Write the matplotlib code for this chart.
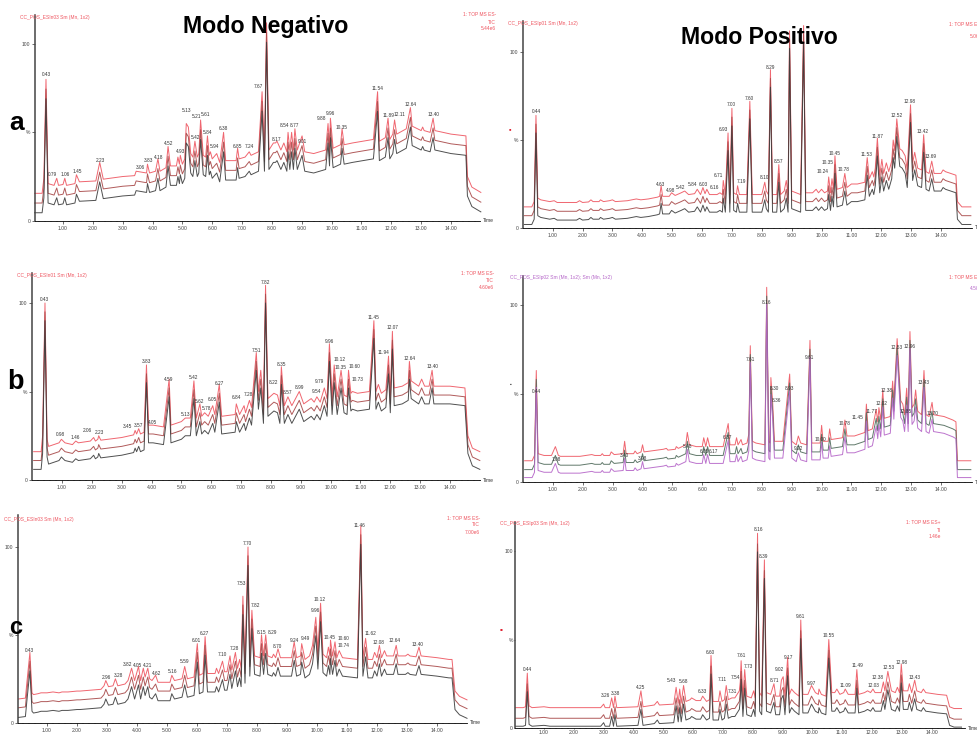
import numpy as np
import matplotlib
matplotlib.use("Agg")
import matplotlib.pyplot as plt

W, H = 977, 734

# top trace of every overlay, (retention time, % intensity)
a_neg_trace = [(.05,15.5),(.3,15.5),(.36,24),(.43,80),(.5,21),(.7,20),(.79,24),(.85,20),(1.0,20.5),(1.06,24),(1.12,20),(1.4,21),(1.45,26),(1.55,22),(2.1,22.5),(2.23,33),(2.35,23.5),(3.0,25),(3.4,25.5),(3.45,28),(3.8,27),(3.83,32),(3.9,27),(4.1,28),(4.18,35),(4.25,28),(4.45,30),(4.52,42),(4.6,31),(4.8,31),(4.85,36),(4.9,32),(4.93,37),(5.0,32),(5.08,35),(5.13,55),(5.2,53),(5.28,38),(5.35,36),(5.42,45),(5.5,36),(5.55,38),(5.61,57),(5.7,37),(5.78,36),(5.84,48),(5.9,37),(5.94,39),(6.0,35),(6.15,38),(6.25,33),(6.38,50),(6.45,34),(6.8,34),(6.85,41),(6.9,35),(7.1,36),(7.24,39),(7.3,37),(7.55,39),(7.67,73),(7.75,39),(7.82,112),(7.9,40),(8.05,44),(8.12,44),(8.17,45),(8.3,40),(8.4,44),(8.5,39),(8.54,50),(8.6,40),(8.66,50),(8.72,40),(8.77,52),(8.85,40),(9.01,48),(9.1,39),(9.4,38),(9.8,40),(9.88,55),(9.93,42),(9.96,58),(10.05,41),(10.3,43),(10.35,52),(10.42,43),(10.7,44),(11.4,46),(11.54,73),(11.6,45),(11.8,47),(11.89,58),(11.95,46),(12.05,49),(12.11,57),(12.18,49),(12.5,52),(12.64,64),(12.7,53.5),(13.0,51),(13.05,53),(13.1,51),(13.3,50),(13.4,58),(13.46,51),(14.0,49),(14.5,48),(14.55,25),(14.7,19),(15.0,16)]
a_pos_trace = [(.05,12),(.3,12),(.38,15),(.44,64),(.5,17),(.6,16),(.9,15),(1.05,15.5),(1.15,14.5),(1.8,14.5),(1.9,15.5),(2.0,14.5),(2.2,14.8),(2.28,16),(2.35,15),(2.55,15),(2.6,16),(2.7,15),(2.9,15.5),(3.0,16),(3.1,15),(3.5,15.5),(3.8,16.5),(3.95,16),(4.2,16.5),(4.5,17.5),(4.58,18),(4.63,24),(4.68,18),(4.9,18),(4.98,20),(5.1,18.5),(5.3,20),(5.42,21),(5.55,19),(5.75,19.5),(5.84,22),(5.95,19),(6.03,23),(6.1,19.5),(6.16,22),(6.25,19),(6.5,19),(6.6,20),(6.68,19),(6.71,27),(6.78,19),(6.87,54),(6.93,19),(7.0,68),(7.06,20),(7.15,19),(7.19,24),(7.25,19),(7.5,19),(7.6,72),(7.68,19),(8.0,19),(8.1,26),(8.15,21),(8.22,19),(8.29,90),(8.36,19),(8.5,19),(8.57,36),(8.63,19),(8.75,21),(8.82,27),(8.88,19),(8.93,112),(9.0,21),(9.15,20),(9.3,19),(9.4,115),(9.47,20),(9.7,20),(9.82,22),(9.9,20),(10.0,22),(10.1,20),(10.2,21),(10.24,29),(10.3,20),(10.35,28),(10.4,22),(10.45,41),(10.52,22),(10.7,23),(10.78,31),(10.85,23),(11.0,25),(11.2,25),(11.45,26),(11.53,40),(11.6,28),(11.7,32),(11.75,29),(11.8,34),(11.87,51),(11.95,30),(12.02,39),(12.08,31),(12.17,37),(12.25,32),(12.35,38),(12.4,50),(12.45,44),(12.52,62),(12.62,45),(12.7,44),(12.8,41),(12.87,33),(12.98,70),(13.05,37),(13.12,43),(13.22,34),(13.35,33),(13.42,53),(13.5,32),(13.6,31),(13.69,38),(13.77,31),(14.0,31),(14.07,33),(14.15,32),(14.5,30),(14.55,15),(14.7,12),(15.0,12)]
b_neg_trace = [(.05,16),(.3,16),(.35,25),(.43,100),(.5,23),(.55,19),(.9,21),(.98,23),(1.1,21),(1.35,20),(1.46,22),(1.55,21),(1.95,22),(2.06,24),(2.12,22),(2.2,23),(2.23,25),(2.3,22.5),(3.0,24),(3.4,25.5),(3.45,28),(3.5,26),(3.57,29),(3.63,26),(3.75,27),(3.83,65),(3.9,31),(4.05,31),(4.4,30),(4.59,57),(4.65,31),(5.0,33),(5.13,35),(5.3,35),(5.42,56),(5.5,35),(5.62,43),(5.68,36),(5.78,38),(5.9,36),(6.05,42),(6.12,37),(6.27,54),(6.35,36),(6.8,37),(6.84,43),(6.95,37),(7.1,42),(7.15,38),(7.28,45),(7.35,41),(7.51,72),(7.58,50),(7.66,62),(7.75,42),(7.82,110),(7.9,46),(8.1,49),(8.22,48),(8.3,42),(8.35,64),(8.45,42),(8.57,47),(8.7,42),(8.95,50),(9.1,43),(9.35,46),(9.45,44),(9.54,47),(9.65,44),(9.79,52),(9.88,46),(9.96,77),(10.05,47),(10.12,65),(10.22,47),(10.35,62),(10.45,48),(10.55,47),(10.6,62),(10.68,49),(10.73,50),(10.9,49),(11.3,50),(11.45,90),(11.52,50),(11.6,54),(11.7,49),(11.85,51),(11.94,70),(12.0,48),(12.07,84),(12.13,52),(12.4,53),(12.6,55),(12.64,67),(12.7,56),(12.95,53),(13.05,57),(13.15,53),(13.3,53),(13.4,62),(13.46,53),(14.0,53),(14.5,52),(14.6,25),(14.75,18),(15.0,16)]
b_pos_trace = [(.05,12),(.3,12),(.38,15),(.44,63),(.5,16),(.7,15),(.95,15),(1.08,20),(1.18,15),(1.25,14.5),(1.9,14.5),(2.3,15.5),(2.4,15),(2.6,15),(2.65,16),(2.7,15),(2.9,15),(2.95,17),(3.05,15.5),(3.35,16),(3.4,23),(3.45,16),(3.7,16),(3.75,17.5),(3.82,16),(3.95,17),(4.0,21),(4.05,17),(4.7,18.5),(4.8,19),(4.85,18),(5.1,18.5),(5.13,20),(5.2,19),(5.45,21),(5.5,28),(5.57,21),(5.8,20),(6.0,20),(6.05,25),(6.12,20),(6.18,25),(6.25,20),(6.7,20),(6.87,33),(6.93,21),(7.1,21),(7.15,25),(7.2,21),(7.3,24),(7.35,21),(7.5,22),(7.56,27),(7.61,77),(7.68,23),(7.8,22),(8.1,21),(8.16,110),(8.23,23),(8.27,22),(8.3,59),(8.36,45),(8.42,23),(8.7,23),(8.93,61),(9.0,23),(9.15,21),(9.22,26),(9.3,22),(9.5,21),(9.61,80),(9.67,22),(9.95,22),(10.0,32),(10.05,23),(10.22,23),(10.27,30),(10.32,24),(10.7,25),(10.78,35),(10.85,26),(11.1,26),(11.45,28),(11.5,44),(11.56,29),(11.7,30),(11.77,36),(11.83,41),(11.88,34),(11.92,42),(11.98,35),(12.05,52),(12.1,36),(12.3,37),(12.38,57),(12.42,45),(12.53,81),(12.65,46),(12.72,44),(12.78,38),(12.85,53),(12.9,38),(12.96,85),(13.03,42),(13.1,44),(13.15,52),(13.22,40),(13.35,38),(13.43,63),(13.5,38),(13.6,37),(13.7,45),(13.75,38),(14.1,37),(14.4,35),(14.5,34),(14.55,12),(14.7,12),(15.0,12)]
c_neg_trace = [(.05,13.5),(.28,14),(.33,23),(.43,40),(.5,17),(.55,16),(.7,16.5),(.8,17),(1.0,17),(1.2,17.5),(1.4,17),(1.5,17.5),(1.7,17.5),(2.0,18),(2.1,18),(2.8,19),(2.9,21),(2.96,24),(3.05,20.5),(3.2,21),(3.28,25),(3.36,21),(3.6,22),(3.7,24),(3.82,31),(3.92,24),(4.05,32),(4.12,24),(4.21,31),(4.27,26),(4.36,31),(4.42,25),(4.5,24),(4.62,27),(4.7,23),(5.1,23),(5.16,27),(5.25,24),(5.5,25),(5.59,32),(5.68,25),(5.9,26),(6.01,45),(6.08,27),(6.2,28),(6.27,49),(6.35,28),(6.6,28),(6.65,31),(6.72,28),(6.85,35),(6.92,29),(7.0,29),(7.1,38),(7.16,30),(7.28,40),(7.35,31),(7.42,36),(7.47,31),(7.53,72),(7.6,33),(7.7,100),(7.76,37),(7.83,64),(7.92,38),(8.1,37),(8.15,50),(8.22,38),(8.29,50),(8.36,38),(8.5,37),(8.55,39),(8.62,37),(8.7,42),(8.78,37),(9.15,37),(9.24,46),(9.32,37),(9.45,38),(9.49,45),(9.6,36),(9.75,38),(9.85,44),(9.96,60),(10.03,41),(10.12,68),(10.2,39),(10.32,37),(10.38,43),(10.43,38),(10.45,47),(10.52,38),(10.6,46),(10.66,37),(10.74,41),(10.85,37),(11.35,36),(11.46,112),(11.53,37),(11.62,48),(11.7,36),(11.85,36),(11.92,40),(12.0,37),(12.08,44),(12.15,37),(12.25,41),(12.32,38),(12.55,38),(12.64,44),(12.7,38),(12.95,38),(13.03,39),(13.1,38),(13.3,37.5),(13.4,43),(13.47,38),(14.0,37),(14.4,36),(14.5,36),(14.6,18),(14.75,15),(15.0,13)]
c_pos_trace = [(.05,11.5),(.3,11.5),(.38,12),(.44,31),(.5,12.5),(.6,11.5),(1.0,12),(1.2,11.5),(2.9,11.5),(3.0,13.5),(3.05,11.5),(3.2,11.5),(3.27,17),(3.33,11.5),(3.38,18),(3.44,11.5),(4.15,12),(4.25,21),(4.32,12),(4.7,13),(4.8,15),(4.87,13),(5.35,13.5),(5.43,23),(5.5,14),(5.55,22),(5.6,14),(5.68,24),(5.76,15),(5.9,16),(5.95,17),(6.1,15.5),(6.25,15.5),(6.32,18),(6.45,15),(6.55,16),(6.6,41),(6.67,15),(6.85,15),(6.9,21),(6.97,15),(7.05,16),(7.11,24),(7.18,16),(7.3,17),(7.4,17),(7.55,21),(7.58,26),(7.61,38),(7.67,17),(7.73,33),(7.8,18),(7.95,17),(8.03,21),(8.08,17),(8.16,110),(8.23,20),(8.3,18),(8.39,95),(8.46,20),(8.6,19),(8.71,25),(8.77,18),(8.9,18),(8.96,27),(9.02,29),(9.08,18),(9.17,40),(9.23,19),(9.3,22),(9.4,20),(9.55,18),(9.61,61),(9.68,19),(9.85,19),(9.97,24),(10.1,20),(10.2,19),(10.22,22),(10.3,19),(10.45,18),(10.55,50),(10.65,20),(10.75,20),(10.82,22),(10.92,19),(11.05,20),(11.1,22),(11.2,19),(11.43,19),(11.49,33),(11.55,19),(11.75,20),(11.85,21),(11.95,20),(12.03,22),(12.1,20),(12.3,20),(12.38,26),(12.43,21),(12.53,32),(12.65,21),(12.78,20),(12.85,23),(12.92,20),(12.98,36),(13.05,21),(13.2,21),(13.25,25),(13.33,20),(13.43,27),(13.5,21),(13.65,20),(13.72,22),(13.8,20),(14.2,19),(14.5,18.5),(14.6,12),(14.75,11),(15.0,11)]

# peak annotations: text, where it sits in time and %
a_neg_labels = [("0.43",.44,83),("0.79",.64,26.4),("1.06",1.08,26),("1.45",1.48,28),("2.23",2.24,34),("3.06",3.58,30),("3.83",3.86,33.8),("4.18",4.19,36),("4.52",4.53,43.8),("4.93",4.94,39),("5.13",5.14,62.5),("5.21",5.46,59),("5.42",5.43,47),("5.61",5.79,60),("5.84",5.84,50),("5.94",6.09,42),("6.38",6.39,52),("6.85",6.86,42),("7.24",7.25,42),("7.67",7.53,76),("8.17",8.17,46),("8.54",8.41,53.6),("8.77",8.77,54),("9.01",9.01,45),("9.88",9.65,58),("9.96",9.95,60.5),("10.35",10.34,53),("11.54",11.55,75),("11.89",11.89,59.4),("12.11",12.29,60),("12.64",12.64,65.5),("13.40",13.4,60)]
a_pos_labels = [("0.44",.44,66),("4.63",4.62,25),("4.98",4.96,21.3),("5.42",5.27,23),("5.84",5.68,24.7),("6.03",6.03,25),("6.16",6.4,22.8),("6.71",6.56,30),("6.93",6.71,56),("7.00",6.99,70),("7.19",7.32,26.4),("7.60",7.58,73.8),("8.10",8.09,28.7),("8.29",8.28,91),("8.57",8.56,38),("10.24",10.04,32),("10.35",10.19,37),("10.45",10.44,42.6),("10.78",10.75,33),("11.53",11.51,42),("11.87",11.86,52),("12.52",12.5,64),("12.98",12.96,71.7),("13.42",13.38,55),("13.69",13.65,40.6)]
b_neg_labels = [("0.43",.42,101.7),("0.98",.96,25.7),("1.46",1.46,24),("2.06",1.86,27.7),("2.23",2.24,27),("3.45",3.19,30),("3.57",3.57,31),("3.83",3.82,67),("4.05",4.05,32.6),("4.59",4.57,56.8),("5.13",5.13,37),("5.42",5.41,57.7),("5.62",5.62,44.5),("5.78",5.85,40.6),("6.05",6.04,45.5),("6.27",6.26,54.5),("6.84",6.83,46.6),("7.28",7.26,48.5),("7.51",7.5,73.4),("7.82",7.82,111.7),("8.22",8.08,55),("8.35",8.34,65),("8.57",8.57,49.6),("8.99",8.97,52),("9.54",9.54,49.8),("9.79",9.64,55.5),("9.96",9.95,78.5),("10.12",10.3,68),("10.35",10.34,63.6),("10.60",10.79,64.3),("10.73",10.91,56.6),("11.45",11.45,92),("11.94",11.76,72),("12.07",12.07,86),("12.64",12.63,68.5),("13.40",13.4,64)]
b_pos_labels = [("0.44",.44,51),("1.08",1.1,12.8),("3.40",3.39,14.7),("3.98",4.01,13),("5.48",5.52,19.8),("6.05",6.06,17.5),("6.17",6.37,17.4),("6.87",6.85,25),("7.61",7.6,69),("8.16",8.16,101.5),("8.30",8.41,52.6),("8.36",8.47,45.8),("8.93",8.92,52.6),("9.61",9.58,70.4),("9.22",9.22,18.9),("10.00",9.97,23.8),("10.78",10.77,32.8),("11.45",11.2,36.4),("11.77",11.68,40),("12.02",12.0,44.5),("12.38",12.18,51.7),("12.53",12.5,76),("12.85",12.82,40),("12.96",12.95,76.8),("13.43",13.4,56.4),("13.70",13.7,38.7)]
c_neg_labels = [("0.43",.43,41),("2.96",2.98,25.6),("3.28",3.4,27),("3.82",3.68,33),("4.05",4.02,32.6),("4.21",4.35,32.8),("4.62",4.66,28),("5.16",5.18,29),("5.59",5.58,35),("6.01",5.99,46.9),("6.27",6.25,50.5),("7.10",6.84,39),("7.28",7.24,42),("7.53",7.49,79),("7.70",7.68,102),("7.82",7.95,66.8),("8.15",8.14,51.4),("8.29",8.52,51.4),("8.70",8.67,43.5),("9.24",9.23,46.7),("9.49",9.61,47.8),("9.96",9.93,63.8),("10.12",10.1,70.4),("10.45",10.42,48.6),("10.60",10.87,47.8),("10.74",10.9,43.8),("11.46",11.43,112),("11.62",11.78,51),("12.08",12.05,45.5),("12.64",12.6,46.5),("13.40",13.36,44.6)]
c_pos_labels = [("0.44",.44,33),("3.26",3.06,18.4),("3.38",3.4,19.7),("4.25",4.25,22.6),("5.43",5.29,26.6),("5.68",5.68,26.2),("6.33",6.31,20.5),("6.60",6.59,42.7),("7.11",6.98,27.3),("7.31",7.32,20.5),("7.54",7.42,28.7),("7.61",7.62,40.8),("7.73",7.86,34.5),("8.16",8.18,112),("8.39",8.37,97),("8.71",8.72,27),("9.02",8.88,33),("9.17",9.18,39.8),("9.61",9.61,63),("9.97",9.97,25),("10.55",10.56,52),("11.09",11.12,24),("11.49",11.5,35.5),("12.03",12.04,24),("12.38",12.2,28.8),("12.53",12.54,34),("12.98",12.99,37),("13.43",13.44,28.8)]

hours = list(range(1, 15))
RED, MAROON, DARK, GREEN, PURPLE = "#ee5560", "#a84848", "#3c3c3c", "#4f6a5a", "#b565c8"

fig = plt.figure(figsize=(W / 100, H / 100), dpi=100)
plt.rcParams["font.family"] = ["Liberation Sans", "DejaVu Sans"]


def fig_text(px, py, s, **kw):
    fig.text(px / W, 1 - py / H, s, **kw)


def panel(trace, labels, offsets, colors, left, right, top, y0, y100, t1, t14, tick_len=2, tick_pad=1.5):
    ax = fig.add_axes([left / W, 1 - y0 / H, (right - left) / W, (y0 - top) / H])
    ax.patch.set_alpha(0)
    per_min = (t14 - t1) / 13
    ax.set_xlim(1 + (left - t1) / per_min, 1 + (right - t1) / per_min)
    ax.set_ylim(0, (y0 - top) / (y0 - y100) * 100)
    rt, top_trace = np.array(trace).T
    # replicate injections are stacked with a constant offset, as in the instrument software
    for off, col in zip(offsets, colors):
        ax.plot(rt, top_trace - off, color=col, lw=0.7, alpha=0.9, clip_on=False)
    for s, x, y in labels:
        ax.text(x, y, s, fontsize=3.4, color="#333333", ha="center", va="center", clip_on=True)
    ax.spines["top"].set_visible(False)
    ax.spines["right"].set_visible(False)
    ax.spines["left"].set_linewidth(1.1)
    ax.spines["left"].set_color("#444444")
    ax.spines["bottom"].set_linewidth(0.6)
    ax.set_xticks(hours)
    ax.set_xticklabels(["%d.00" % h for h in hours])
    ax.set_xticks(np.arange(0.2, ax.get_xlim()[1], 0.2), minor=True)
    ax.set_yticks([0, 50, 100])
    ax.set_yticklabels(["0", "%", "100"])
    ax.tick_params(axis="both", which="major", labelsize=3.6, length=tick_len, width=0.4, pad=tick_pad, labelcolor="#444444")
    ax.tick_params(axis="x", which="minor", length=1, width=0.3)
    ax.text(1.006, 0, "Time", transform=ax.transAxes, fontsize=3.6, color="#333333", va="center")


panel(a_neg_trace, a_neg_labels, [0, 5.5, 11], [RED, MAROON, DARK], 35, 480, 15, 220.7, 44, 63, 451)
panel(a_pos_trace, a_pos_labels, [0, 5, 10], [RED, MAROON, DARK], 523, 972, 21, 228, 52, 552.7, 941)
panel(b_neg_trace, b_neg_labels, [0, 5, 10], [RED, MAROON, DARK], 32, 480, 273, 480, 303, 62, 450)
panel(b_pos_trace, b_pos_labels, [0, 5, 9.5], [RED, GREEN, PURPLE], 523, 972, 276, 482, 305, 553, 941)
panel(c_neg_trace, c_neg_labels, [0, 5, 10.5], [RED, MAROON, DARK], 18, 467, 515, 722.7, 547, 47, 437)
panel(c_pos_trace, c_pos_labels, [0, 6, 10.5], [RED, MAROON, DARK], 515, 965, 522, 728, 551, 544, 931.7, tick_len=1, tick_pad=0.5)

# run headers
head = dict(fontsize=3.5, va="center")
fig_text(20, 17, "CC_POS_ESIn03 Sm (Mn, 1x2)", color=RED, **head)
fig_text(508, 24, "CC_POS_ESIp01 Sm (Mn, 1x2)", color=RED, **head)
fig_text(17, 276, "CC_POS_ESIn01 Sm (Mn, 1x2)", color=RED, **head)
fig_text(510, 278, "CC_POS_ESIp02 Sm (Mn, 1x2); Sm (Mn, 1x2)", color=PURPLE, **head)
fig_text(4, 519, "CC_POS_ESIn03 Sm (Mn, 1x2)", color=RED, **head)
fig_text(500, 524, "CC_POS_ESIp03 Sm (Mn, 1x2)", color=RED, **head)

fig_text(496, 22, "1: TOP MS ES-\nTIC\n5.44e6", color=RED, ha="right", linespacing=1.5, **head)
fig_text(949, 24, "1: TOP MS ES+", color=RED, **head)
fig_text(970, 36, "5.06e6", color=RED, **head)
fig_text(494, 281, "1: TOP MS ES-\nTIC\n4.60e6", color=RED, ha="right", linespacing=1.5, **head)
fig_text(949, 278, "1: TOP MS ES+", color=RED, **head)
fig_text(970, 289, "4.50e6", color=PURPLE, **head)
fig_text(480, 525, "1: TOP MS ES-\nTIC\n7.00e6", color=RED, ha="right", linespacing=1.5, **head)
fig_text(941, 530, "1: TOP MS ES+\nTI\n1.46e", color=RED, ha="right", linespacing=1.5, **head)

# titles and panel letters
big = dict(fontweight="bold", color="black", ha="center", va="center", zorder=10)
fig_text(266, 26, "Modo Negativo", fontsize=16.7, **big)
fig_text(759, 37, "Modo Positivo", fontsize=16.6, **big)
fig_text(17, 123, "a", fontsize=19, **big)
fig_text(15, 382, "b", fontsize=19.5, **big)
fig_text(16, 628, "c", fontsize=17, **big)

# stray marker dots left in the screenshot
fig_text(510, 130, "▪", fontsize=5, color="#e02030", ha="center", va="center")
fig_text(511, 384, "▪", fontsize=3.5, color="#333333", ha="center", va="center")
fig_text(501, 630, "▪", fontsize=6, color="#e02030", ha="center", va="center")

fig.savefig("out.png", dpi=100)
